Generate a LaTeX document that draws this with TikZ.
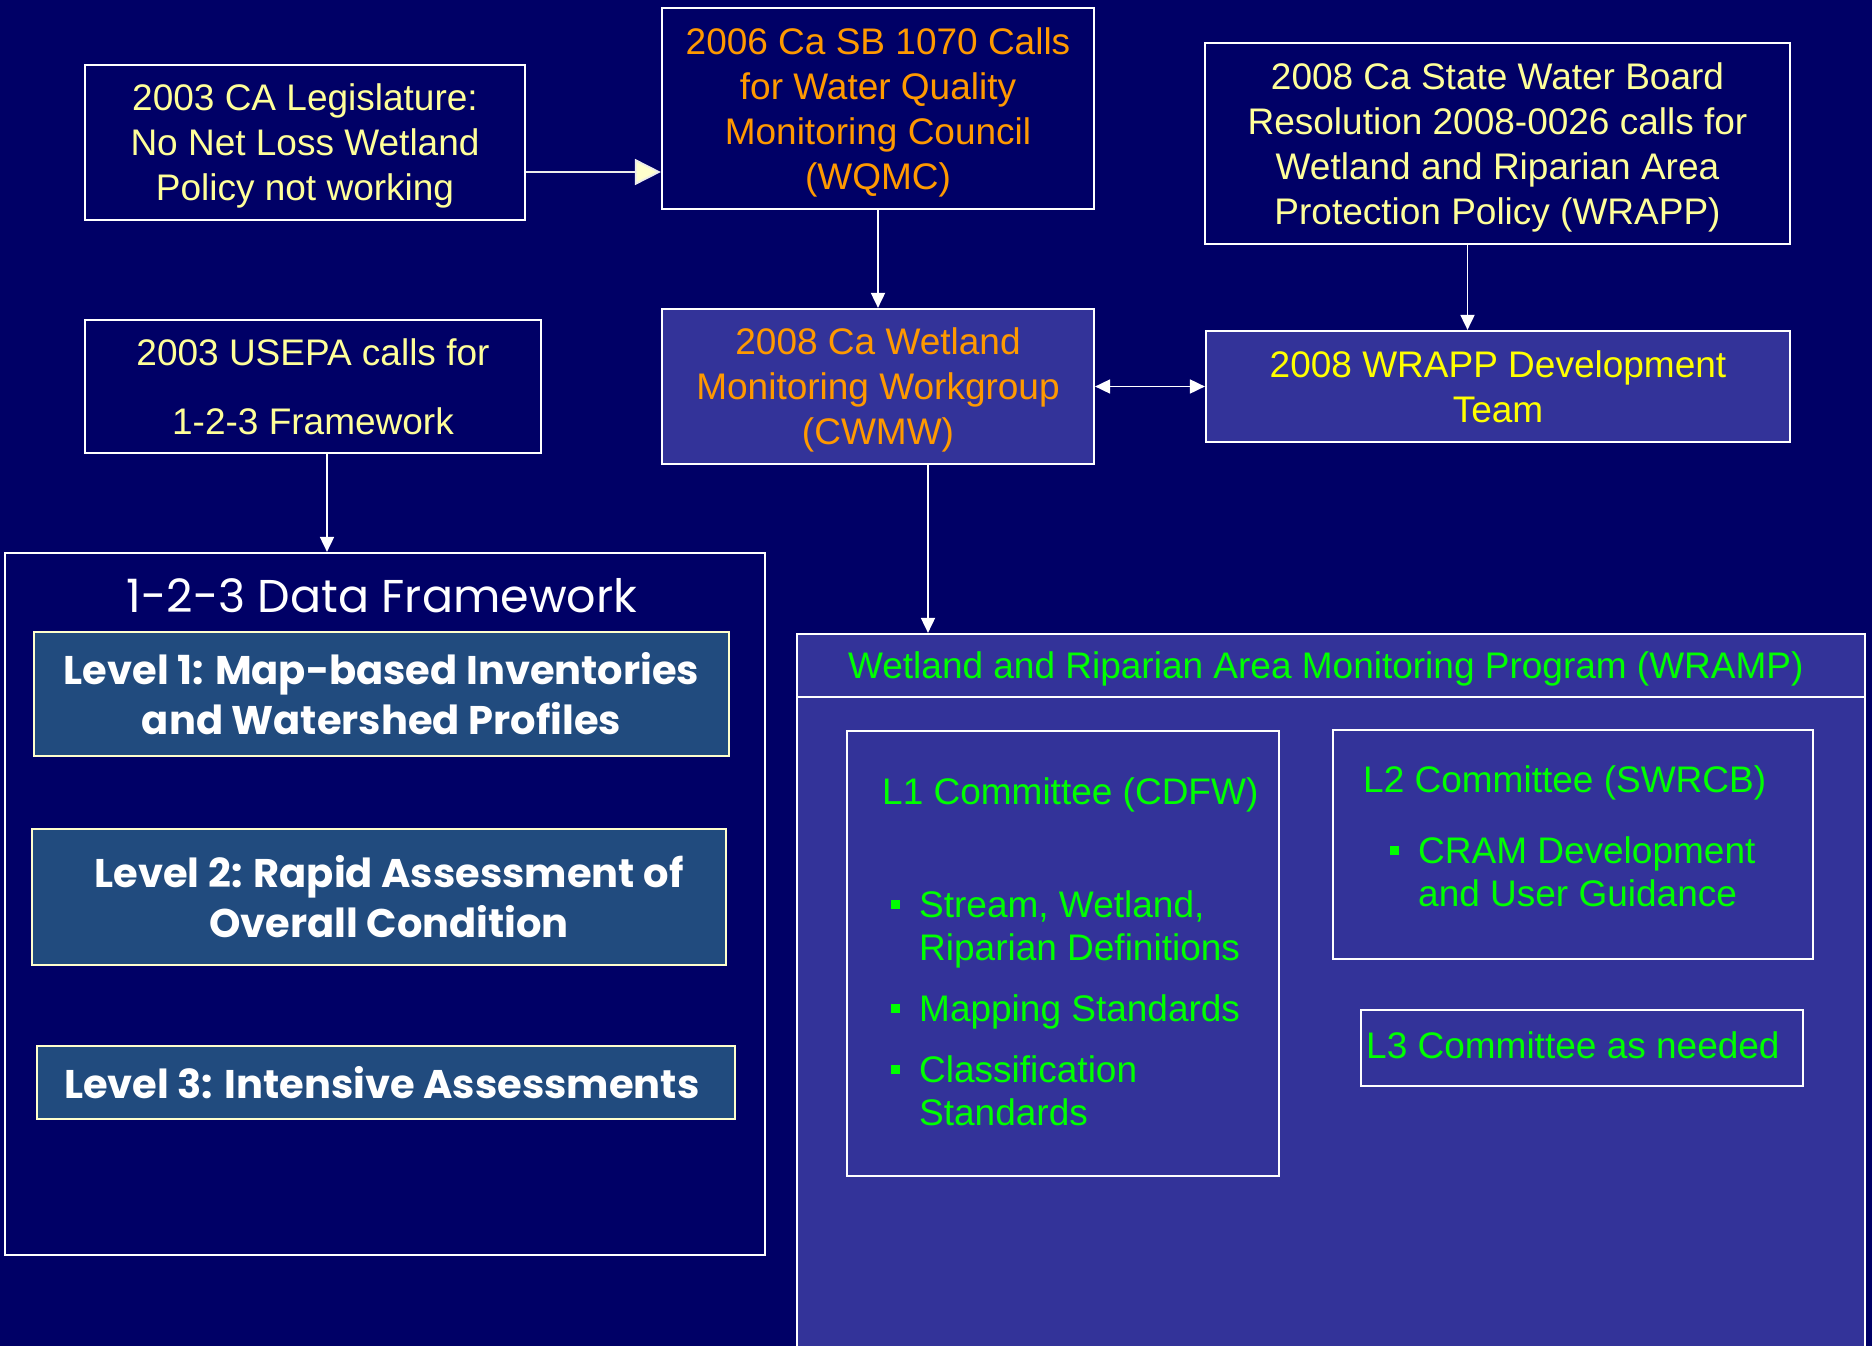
\documentclass[tikz,border=0pt]{standalone}
\usepackage{fontspec}
\setmainfont{Liberation Sans}
\newfontfamily\gothic{Poppins}
\usetikzlibrary{arrows.meta}

\definecolor{slidebg}{HTML}{000066}
\definecolor{panel}{HTML}{333399}
\definecolor{levelblue}{HTML}{214B7E}
\definecolor{levelrim}{HTML}{FFFFCC}
\definecolor{paleyellow}{HTML}{FFFF99}
\definecolor{brightyellow}{HTML}{FFFF00}
\definecolor{orangetext}{HTML}{FF9900}
\definecolor{greentext}{HTML}{00FF00}

\newcommand{\sqbul}{\rule[9pt]{9pt}{9pt}}

\begin{document}
\begin{tikzpicture}[x = 1pt, y = -1pt, every node/.append style={inner sep = 0pt, align = center, font = \fontsize{37}{45}\selectfont},
  box/.style={draw = white, line width = 2.2pt, fill = slidebg, text depth = 0pt},
  panelbox/.style={draw = white, line width = 2.2pt, fill = panel, text depth = 0pt},
  level/.style={draw = levelrim, line width = 2pt, fill = levelblue, text = white, font = \gothic\bfseries\fontsize{40}{50}\selectfont},
  link/.style={draw = white, line width = 1.8pt, -{Triangle[length = 15pt, width = 14pt]}}]

  \fill [slidebg] (0, 0) rectangle (1872, 1346);
  \useasboundingbox (0, 0) rectangle (1872, 1346);

  \node [box, minimum width = 440, minimum height = 155, text = paleyellow] (legis) at (305, 142.5) { 2003 CA Legislature:\\ No Net Loss Wetland\\ Policy not working };
  \node [box, minimum width = 456, minimum height = 133, text = paleyellow] (usepa) at (313, 386.5) { 2003 USEPA calls for\\[24pt] 1-2-3 Framework };

  \node [box, minimum width = 432, minimum height = 201, text = orangetext] (wqmc) at (878, 108.5) { 2006 Ca SB 1070 Calls\\ for Water Quality\\ Monitoring Council\\ (WQMC) };
  \node [panelbox, minimum width = 432, minimum height = 155, text = orangetext] (cwmw) at (878, 386.5) { 2008 Ca Wetland\\ Monitoring Workgroup\\ (CWMW) };

  \node [box, minimum width = 585, minimum height = 201, text = paleyellow] (board) at (1497.5, 143.5) { 2008 Ca State Water Board\\ Resolution 2008-0026 calls for\\ Wetland and Riparian Area\\ Protection Policy (WRAPP) };
  \node [panelbox, minimum width = 584, minimum height = 111, text = brightyellow] (team) at (1498, 386.5) { 2008 WRAPP Development\\ Team };

  \node [box, minimum width = 760, minimum height = 702] (frame) at (385, 904) {};
  \node [anchor = base, text = white, font = \gothic\fontsize{46}{50}\selectfont] (frametitle) at (388, 612) { 1-2-3 Data Framework };
  \node [level, minimum width = 695, minimum height = 124] (lvlone) at (381.5, 694) { Level 1: Map-based Inventories\\ and Watershed Profiles };
  \node [level, minimum width = 694, minimum height = 136] (lvltwo) at (379, 897) { \hspace*{20pt}Level 2: Rapid Assessment of\\ \hspace*{20pt}Overall Condition };
  \node [level, minimum width = 698, minimum height = 73] (lvlthree) at (386, 1082.5) { Level 3: Intensive Assessments };

  \node [panelbox, minimum width = 1068, minimum height = 718] (wramp) at (1331, 993) {};
  \node [draw = white, line width = 2.2pt, text depth = 0pt, minimum width = 1068, minimum height = 63, text = greentext] (wramphead) at (1331, 665.5) { Wetland and Riparian Area Monitoring Program (WRAMP) };

  \node [panelbox, minimum width = 432, minimum height = 445] (lone) at (1063, 953.5) {};
  \node [anchor = base west, text = greentext] (lonetitle) at (882, 804.5) { L1 Committee (CDFW) };
  \node [anchor = base west, text = greentext, align = left, font = \fontsize{37}{43}\selectfont] (lonelist) at (891, 917.5) {%
    \begin{tabular}[t]{@{}l@{\hspace{19pt}}l@{}}
      \sqbul & Stream, Wetland,\\
             & Riparian Definitions\\[18pt]
      \sqbul & Mapping Standards\\[18pt]
      \sqbul & Classification\\
             & Standards
    \end{tabular}};

  \node [panelbox, minimum width = 480, minimum height = 229] (ltwo) at (1573, 844.5) {};
  \node [anchor = base west, text = greentext] (ltwotitle) at (1363, 792.5) { L2 Committee (SWRCB) };
  \node [anchor = base west, text = greentext, align = left, font = \fontsize{37}{43}\selectfont] (ltwolist) at (1390, 863.5) {%
    \begin{tabular}[t]{@{}l@{\hspace{19pt}}l@{}}
      \sqbul & CRAM Development\\
             & and User Guidance
    \end{tabular}};

  \node [panelbox, minimum width = 442, minimum height = 76] (lthree) at (1582, 1048) {};
  \node [anchor = base west, text = greentext] (lthreetext) at (1366, 1058.5) { L3 Committee as needed };

  \draw [draw = white!85!gray, line width = 1.8pt, -{Triangle[length = 26pt, width = 26pt, fill = levelrim]}] ([yshift = -29.5pt]legis.east) -- ([yshift = -29.5pt]legis.east -| wqmc.west);
  \draw [link] (wqmc.south) -- (cwmw.north);
  \draw [link] ([xshift = -30pt]board.south) -- ([xshift = -30pt]board.south |- team.north);
  \draw [link, {Triangle[length = 15pt, width = 14pt]}-{Triangle[length = 15pt, width = 14pt]}] (cwmw.east) -- (team.west);
  \draw [link] ([xshift = 50pt]cwmw.south) -- ([xshift = 50pt]cwmw.south |- wramp.north);
  \draw [link] ([xshift = 14pt]usepa.south) -- ([xshift = 14pt]usepa.south |- frame.north);

\end{tikzpicture}
\end{document}
